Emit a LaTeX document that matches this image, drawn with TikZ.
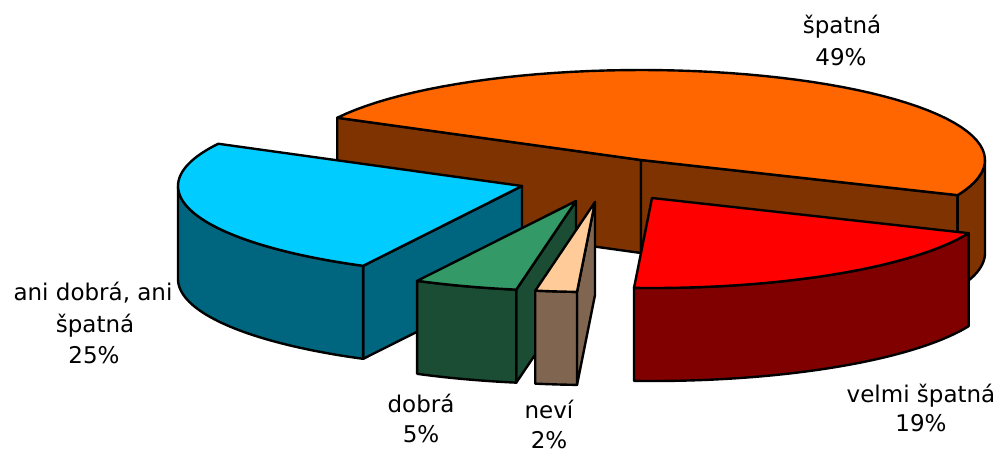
\documentclass[tikz,border=0pt]{standalone}
\usepackage{fontspec}
\setmainfont{DejaVu Sans}
\definecolor{orTop}{HTML}{FF6600}
\definecolor{orSide}{HTML}{7F3300}
\definecolor{rdTop}{HTML}{FF0000}
\definecolor{rdSide}{HTML}{800000}
\definecolor{cyTop}{HTML}{00CCFF}
\definecolor{cySide}{HTML}{006680}
\definecolor{grTop}{HTML}{339966}
\definecolor{grSide}{HTML}{1A4D33}
\definecolor{beTop}{HTML}{FFCC99}
\definecolor{beSide}{HTML}{806650}
\def\R{344}
\def\Ry{90}
\def\H{93}
\newcommand\slicetop[5]{%
  \filldraw[pie,fill=#5] (#1,#2) -- plot[domain=#3:#4,samples=60,variable=\t] ({#1+\R*cos(\t)},{#2+\Ry*sin(\t)}) -- cycle;}
\newcommand\slicewall[5]{%
  \filldraw[pie,fill=#5] plot[domain=#3:#4,samples=60,variable=\t] ({#1+\R*cos(\t)},{#2+\Ry*sin(\t)}) -- plot[domain=#4:#3,samples=60,variable=\t] ({#1+\R*cos(\t)},{#2+\H+\Ry*sin(\t)}) -- cycle;}
\newcommand\sliceface[4]{%
  \filldraw[pie,fill=#4] (#1,#2) -- ({#1+\R*cos(#3)},{#2+\Ry*sin(#3)}) -- ({#1+\R*cos(#3)},{#2+\H+\Ry*sin(#3)}) -- (#1,{#2+\H}) -- cycle;}
\tikzset{
  pie/.style={draw=black,line width=2.4pt,line join=round},
  lbl/.style={font=\fontsize{23}{28}\selectfont,text=black,anchor=base,inner sep=0pt}
}
\begin{document}
\begin{tikzpicture}[x=1pt,y=-1pt]
\useasboundingbox (0,0) rectangle (999,448);
% orange: spatna 49%
\sliceface{641}{160}{-152}{orSide}
\sliceface{641}{160}{23}{orSide}
\slicewall{641}{160}{0}{23}{orSide}
\slicetop{641}{160}{-152}{23}{orTop}
% cyan: ani dobra, ani spatna 25%
\sliceface{522}{186}{117.5}{cySide}
\slicewall{522}{186}{117.5}{180}{cySide}
\slicetop{522}{186}{117.5}{208}{cyTop}
% green: dobra 5%
\sliceface{576}{201}{100}{grSide}
\slicewall{576}{201}{100}{117.5}{grSide}
\slicetop{576}{201}{100}{117.5}{grTop}
% beige: nevi 2%
\sliceface{595}{202}{93}{beSide}
\slicewall{595}{202}{93}{100}{beSide}
\slicetop{595}{202}{93}{100}{beTop}
% red: velmi spatna 19%
\slicewall{652}{198}{23}{93}{rdSide}
\slicetop{652}{198}{23}{93}{rdTop}
% labels
\node[lbl] (l1a) at (842,33) {špatná};
\node[lbl] (l1b) at (841,65) {49\%};
\node[lbl] (l2a) at (93,300) {ani dobrá, ani};
\node[lbl] (l2b) at (95,332) {špatná};
\node[lbl] (l2c) at (94,363) {25\%};
\node[lbl] (l3a) at (421,412) {dobrá};
\node[lbl] (l3b) at (421,442) {5\%};
\node[lbl] (l4a) at (549,418) {neví};
\node[lbl] (l4b) at (549,448) {2\%};
\node[lbl] (l5a) at (921,402) {velmi špatná};
\node[lbl] (l5b) at (921,431) {19\%};
\end{tikzpicture}
\end{document}
